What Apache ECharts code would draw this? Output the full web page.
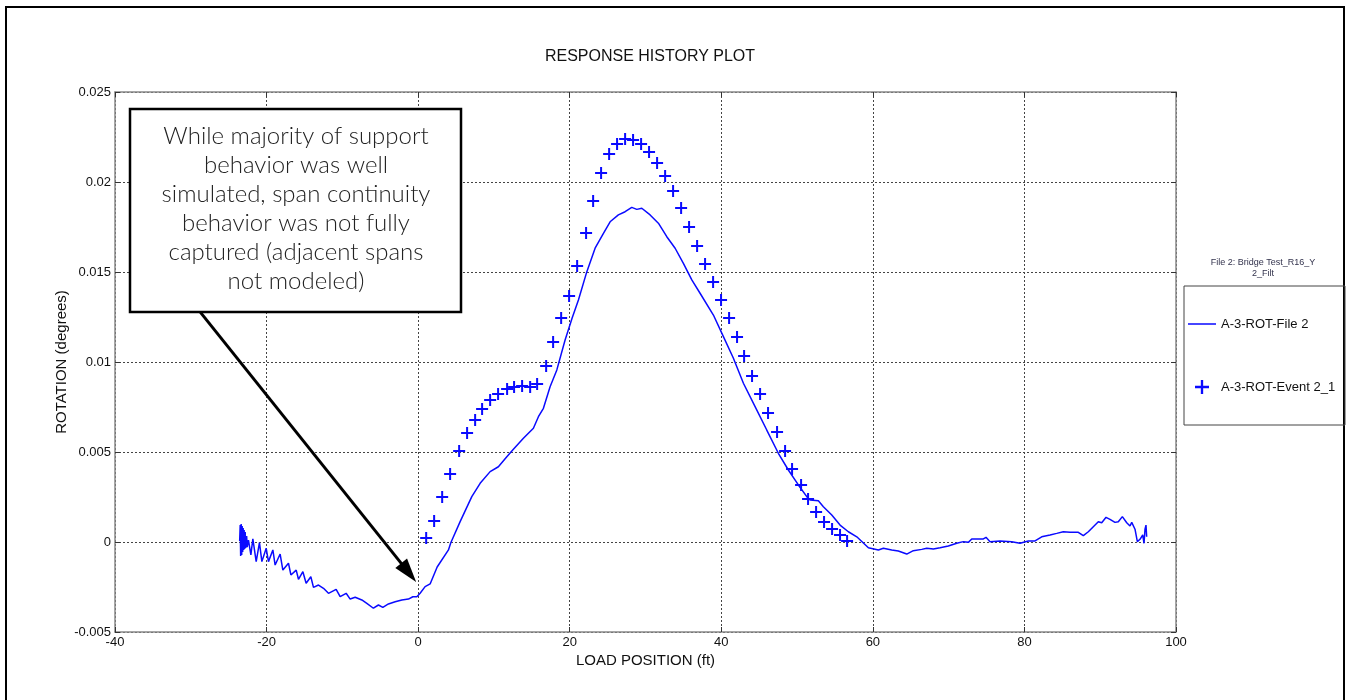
<!DOCTYPE html>
<html><head><meta charset="utf-8">
<script src="https://cdn.jsdelivr.net/npm/echarts@6/dist/echarts.min.js"></script>
<style>html,body{margin:0;padding:0;background:#fff}#c{width:1352px;height:700px}</style>
</head><body><div id="c"></div>
<script>
// ---- data ----
const fileX = [-23.55,-23.48,-23.42,-23.35,-23.28,-23.22,-23.15,-23.09,-23.02,-22.96,-22.89,-22.82,-22.76,-22.63,-22.56,-22.39,-22.07,-21.81,-21.37,-20.94,-20.62,-20.05,-19.75,-19.17,-18.87,-18.21,-17.85,-17.11,-16.79,-16.09,-15.79,-15.21,-14.78,-14.16,-13.81,-13.15,-12.49,-11.83,-10.82,-10.29,-9.50,-8.97,-8.31,-7.43,-6.77,-5.90,-5.24,-4.66,-3.92,-3.03,-2.15,-1.28,-0.70,-0.17,0.26,0.92,1.58,2.51,4.00,4.31,5.54,7.08,8.18,9.50,10.59,11.70,12.57,13.89,15.21,15.87,16.53,17.41,18.30,19.39,20.32,21.15,22.26,23.35,24.45,25.33,26.42,27.31,28.19,28.85,29.51,30.61,31.70,32.81,33.91,35.00,36.11,37.20,38.96,40.28,41.60,42.92,44.46,46.00,47.53,48.85,50.17,51.28,51.72,52.81,53.47,54.58,55.67,56.77,57.88,59.41,59.63,60.73,61.39,62.49,63.36,64.47,65.34,66.45,67.11,67.98,68.87,69.96,71.07,71.94,72.60,73.05,74.58,74.93,75.46,76.78,78.32,79.42,80.51,81.40,82.28,83.38,84.26,85.13,86.02,87.11,87.77,88.43,89.09,89.75,90.20,90.77,91.29,91.95,92.39,92.92,93.50,93.93,94.16,94.59,94.90,95.25,95.61,95.78,95.91,96.04,96.13];
const fileY = [0.00006,0.00094,-0.00078,0.00100,-0.00072,0.00089,-0.00056,0.00078,-0.00044,0.00067,-0.00039,0.00056,-0.00033,0.00033,-0.00028,0.00011,-0.00072,0.00017,-0.00109,-0.00004,-0.00109,-0.00035,-0.00109,-0.00044,-0.00128,-0.00067,-0.00156,-0.00118,-0.00183,-0.00156,-0.00207,-0.00165,-0.00229,-0.00193,-0.00252,-0.00239,-0.00257,-0.00285,-0.00263,-0.00304,-0.00285,-0.00317,-0.00307,-0.00322,-0.00341,-0.00368,-0.00350,-0.00363,-0.00344,-0.00332,-0.00322,-0.00317,-0.00304,-0.00304,-0.00285,-0.00248,-0.00233,-0.00139,-0.00044,-0.00004,0.00113,0.00252,0.00326,0.00391,0.00418,0.00474,0.00515,0.00576,0.00632,0.00696,0.00743,0.00863,0.00956,0.01122,0.01244,0.01344,0.01502,0.01632,0.01715,0.01779,0.01817,0.01835,0.01859,0.01848,0.01854,0.01817,0.01771,0.01696,0.01632,0.01548,0.01456,0.01382,0.01261,0.01141,0.01021,0.00882,0.00752,0.00622,0.00493,0.00400,0.00317,0.00252,0.00233,0.00229,0.00196,0.00150,0.00094,0.00057,0.00029,-0.00032,-0.00035,-0.00044,-0.00035,-0.00044,-0.00050,-0.00067,-0.00048,-0.00041,-0.00035,-0.00039,-0.00032,-0.00022,-0.00007,0.00002,-0.00002,0.00017,0.00017,0.00026,0.00002,0.00006,0.00002,-0.00007,0.00006,0.00006,0.00029,0.00039,0.00048,0.00057,0.00054,0.00054,0.00035,0.00057,0.00085,0.00113,0.00107,0.00137,0.00126,0.00109,0.00113,0.00141,0.00107,0.00089,0.00109,0.00071,0.00002,0.00015,0.00039,-0.00007,0.00071,0.00094,0.00029];

const eventX = [1.06,2.11,3.17,4.22,5.41,6.46,7.52,8.44,9.50,10.55,11.74,12.66,13.72,14.78,15.70,16.89,17.81,18.87,19.92,20.98,22.16,23.09,24.14,25.20,26.25,27.31,28.36,29.42,30.47,31.53,32.59,33.64,34.70,35.75,36.81,37.86,38.92,39.97,41.03,42.08,43.01,44.06,45.12,46.17,47.36,48.42,49.34,50.53,51.45,52.51,53.56,54.62,55.67,56.60];
const eventY = [0.00022,0.00117,0.00250,0.00378,0.00506,0.00606,0.00678,0.00739,0.00789,0.00822,0.00850,0.00861,0.00867,0.00861,0.00878,0.00978,0.01111,0.01244,0.01367,0.01533,0.01717,0.01894,0.02050,0.02156,0.02211,0.02239,0.02233,0.02211,0.02167,0.02106,0.02033,0.01950,0.01856,0.01750,0.01644,0.01544,0.01444,0.01344,0.01244,0.01139,0.01033,0.00922,0.00822,0.00717,0.00611,0.00506,0.00406,0.00317,0.00239,0.00167,0.00111,0.00072,0.00039,0.00006];

const seriesNames = ['A-3-ROT-File 2', 'A-3-ROT-Event 2_1'];
const xRange = [-40, 100, 20];
const yRange = [-0.005, 0.025, 0.005];
const titleText = 'RESPONSE HISTORY PLOT';
const xName = 'LOAD POSITION (ft)';
const yName = 'ROTATION (degrees)';
const legendTitle = 'File 2: Bridge Test_R16_Y\n2_Filt';
const noteText = 'While majority of support\nbehavior was well\nsimulated, span continuity\nbehavior was not fully\ncaptured (adjacent spans\nnot modeled)';
const arrowFrom = [-28.8, 0.0128];
const arrowTo = [-1.25, -0.0017];

// ---- chart ----
const fileData = fileX.map((x, i) => [x, fileY[i]]);
const eventData = eventX.map((x, i) => [x, eventY[i]]);
const plusPath = 'path://M5,0 L7,0 L7,5 L12,5 L12,7 L7,7 L7,12 L5,12 L5,7 L0,7 L0,5 L5,5 Z';
// thin horizontal bar inside a 28x14 box (tiny corner specks fix the bounding box)
const linePath = 'path://M0,0 L0.01,0 L0.01,0.01 Z M0,6.25 L28,6.25 L28,7.75 L0,7.75 Z M27.99,13.99 L28,13.99 L28,14 Z';
const BLUE = '#0a0aff';
const FONT = '"Liberation Sans", Arial, sans-serif';

const chart = echarts.init(document.getElementById('c'), null, {renderer: 'canvas'});
const gridLine = {show: true, lineStyle: {color: '#444', type: [2, 2], width: 1}};
const axisLine = {show: true, onZero: false, lineStyle: {color: '#888', width: 1.5}};
const tick = {show: true, inside: true, length: 5, lineStyle: {color: '#333'}};
chart.setOption({
  animation: false,
  backgroundColor: '#fff',
  title: {text: titleText, left: 645, top: 44, textAlign: 'center',
    textStyle: {fontFamily: FONT, fontSize: 16, fontWeight: 'normal', color: '#111'}},
  grid: {left: 115, right: 176, top: 92, bottom: 68, containLabel: false},
  xAxis: [{
    type: 'value', min: xRange[0], max: xRange[1], interval: xRange[2],
    name: xName, nameLocation: 'middle', nameGap: 21, nameMoveOverlap: false,
    nameTextStyle: {fontFamily: FONT, fontSize: 15, color: '#111'},
    axisLine: axisLine, axisTick: tick,
    axisLabel: {fontFamily: FONT, fontSize: 13, color: '#111', margin: 4},
    splitLine: gridLine
  }, {
    type: 'value', position: 'top', min: xRange[0], max: xRange[1], interval: xRange[2],
    axisLine: axisLine, axisTick: tick,
    axisLabel: {show: false}, splitLine: {show: false}
  }],
  yAxis: [{
    type: 'value', min: yRange[0], max: yRange[1], interval: yRange[2],
    name: yName, nameLocation: 'middle', nameGap: 46, nameRotate: 90, nameMoveOverlap: false,
    nameTextStyle: {fontFamily: FONT, fontSize: 15, color: '#111'},
    axisLine: axisLine, axisTick: tick,
    axisLabel: {fontFamily: FONT, fontSize: 13, color: '#111', margin: 4},
    splitLine: gridLine
  }, {
    type: 'value', position: 'right', min: yRange[0], max: yRange[1], interval: yRange[2],
    axisLine: axisLine, axisTick: tick,
    axisLabel: {show: false}, splitLine: {show: false}
  }],
  legend: {
    orient: 'vertical', left: 1188, top: 317, padding: 0, itemGap: 49, itemWidth: 28, itemHeight: 14,
    textStyle: {fontFamily: FONT, fontSize: 13, color: '#111'},
    data: [{name: seriesNames[0], icon: linePath, itemStyle: {color: BLUE}},
           {name: seriesNames[1], icon: plusPath, itemStyle: {color: BLUE}}],
    selectedMode: false
  },
  series: [{
    name: seriesNames[0], type: 'line', data: fileData, showSymbol: false, symbol: 'none',
    lineStyle: {color: BLUE, width: 1.5}, itemStyle: {color: BLUE}, z: 3,
    markLine: {
      silent: true, animation: false, symbol: ['none', 'triangle'], symbolSize: [15, 24],
      label: {show: false},
      lineStyle: {color: '#000', width: 3, type: 'solid'},
      data: [[{coord: arrowFrom}, {coord: arrowTo}]]
    }
  }, {
    name: seriesNames[1], type: 'scatter', data: eventData, symbol: plusPath, symbolSize: 12,
    itemStyle: {color: BLUE, opacity: 1}, z: 4
  }],
  graphic: [
    {type: 'rect', x: 6, y: 7, shape: {x: 0, y: 0, width: 1338, height: 720}, silent: true, z: -10,
      style: {fill: 'none', stroke: '#000', lineWidth: 2}},
    {type: 'rect', x: 1184, y: 286, shape: {x: 0, y: 0, width: 161, height: 139}, silent: true,
      style: {fill: 'none', stroke: '#444', lineWidth: 1}},
    {type: 'text', x: 1263, y: 257, silent: true,
      style: {text: legendTitle, font: '9px "Liberation Sans", Arial, sans-serif', fill: '#33334d',
        align: 'center', textAlign: 'center', verticalAlign: 'top', lineHeight: 11}},
    {type: 'rect', x: 130, y: 109, shape: {x: 0, y: 0, width: 331, height: 203}, silent: true, z: 50,
      style: {fill: '#fff', stroke: '#000', lineWidth: 2.5}},
    {type: 'text', x: 296, y: 122, silent: true, z: 51,
      style: {text: noteText, font: '300 24px Lato, "Noto Sans", sans-serif',
        fill: '#222', align: 'center', textAlign: 'center', verticalAlign: 'top', lineHeight: 29}}
  ]
});
</script></body></html>
